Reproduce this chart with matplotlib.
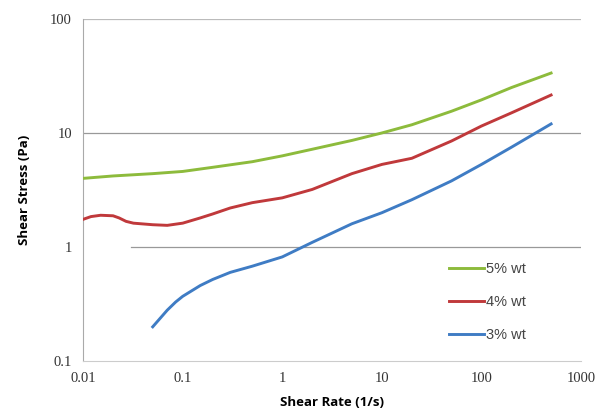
import matplotlib.pyplot as plt
import numpy as np

# shear rate (1/s) and shear stress (Pa)
rate_5 = [0.01, 0.02, 0.05, 0.1, 0.2, 0.5, 1, 2, 5, 10, 20, 50, 100, 200, 500]
stress_5 = [4.0, 4.2, 4.4, 4.6, 5.0, 5.6, 6.3, 7.2, 8.6, 10.0, 11.8, 15.5, 19.5, 25.0, 33.5]

rate_4 = [0.01, 0.012, 0.015, 0.02, 0.023, 0.027, 0.032, 0.05, 0.07, 0.1, 0.15, 0.2, 0.3,
          0.5, 1, 2, 5, 10, 20, 50, 100, 200, 500]
stress_4 = [1.75, 1.85, 1.9, 1.88, 1.8, 1.68, 1.62, 1.57, 1.55, 1.62, 1.8, 1.95, 2.2,
            2.45, 2.7, 3.2, 4.4, 5.3, 6.0, 8.5, 11.5, 15.0, 21.5]

rate_3 = [0.05, 0.06, 0.07, 0.085, 0.1, 0.15, 0.2, 0.3, 0.5, 1, 2, 5, 10, 20, 50, 100, 200, 500]
stress_3 = [0.2, 0.24, 0.28, 0.33, 0.37, 0.46, 0.52, 0.6, 0.68, 0.82, 1.1, 1.6, 2.0, 2.6, 3.8, 5.3, 7.5, 12.0]

x_ticks = [0.01, 0.1, 1, 10, 100, 1000]
x_labels = ['0.01', '0.1', '1', '10', '100', '1000']
y_ticks = [0.1, 1, 10, 100]
y_labels = ['0.1', '1', '10', '100']

fig = plt.figure(figsize=(6.11, 4.19), dpi=100)
ax = fig.add_axes([0.136, 0.138, 0.815, 0.817])

ax.set_xscale('log')
ax.set_yscale('log')
ax.set_xlim(0.01, 1000)
ax.set_ylim(0.1, 100)

# horizontal grid lines like the spreadsheet chart
ax.axhline(10, color='#999999', lw=0.9, zorder=1)
ax.axhline(100, color='#bbbbbb', lw=0.9, zorder=1)
ax.axhline(1, xmin=0.096, color='#999999', lw=0.9, zorder=1)

ax.plot(rate_5, stress_5, color='#8dbb3c', lw=2.1, label='5% wt', zorder=3)
ax.plot(rate_4, stress_4, color='#c0393b', lw=2.1, label='4% wt', zorder=3)
ax.plot(rate_3, stress_3, color='#3f7cc4', lw=2.1, label='3% wt', zorder=3)

ax.set_xticks(x_ticks)
ax.set_xticklabels(x_labels)
ax.set_yticks(y_ticks)
ax.set_yticklabels(y_labels)
ax.minorticks_off()
ax.tick_params(length=0, pad=8, labelsize=10.5, colors='#333333')
for lab in ax.get_xticklabels() + ax.get_yticklabels():
    lab.set_family('Liberation Serif')

for s in ['top', 'right']:
    ax.spines[s].set_visible(False)
ax.spines['left'].set_color('#aaaaaa')
ax.spines['bottom'].set_color('#cccccc')

ax.set_xlabel('Shear Rate (1/s)', fontsize=9.5, fontweight='bold', family='Open Sans', labelpad=8)
ax.set_ylabel('Shear Stress (Pa)', fontsize=9.5, fontweight='bold', family='Open Sans', labelpad=14)

leg = ax.legend(loc='lower left', bbox_to_anchor=(0.735, 0.055), frameon=False,
                borderpad=0, borderaxespad=0,
                handlelength=2.4, handletextpad=0.1, labelspacing=1.3,
                prop={'family': 'Liberation Sans', 'size': 10.5})
for t in leg.get_texts():
    t.set_color('#444444')

fig.savefig('out.png', dpi=100)
